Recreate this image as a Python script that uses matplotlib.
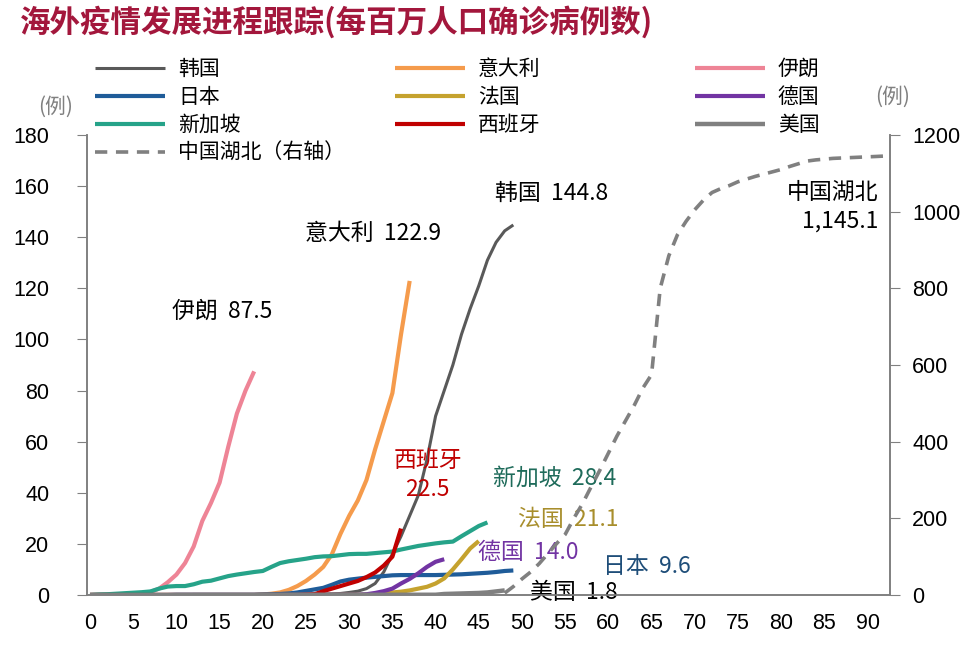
import numpy as np
import matplotlib
matplotlib.use("Agg")
import matplotlib.pyplot as plt

CJK = ['Noto Sans CJK SC', 'DejaVu Sans']
plt.rcParams['font.family'] = CJK

# ---------------- data (days since start, cases per million) ----------------
korea = [0.0, 0.0, 0.0, 0.0, 0.1, 0.1, 0.1, 0.1, 0.1, 0.1,
         0.1, 0.1, 0.2, 0.2, 0.2, 0.2, 0.2, 0.2, 0.2, 0.2,
         0.2, 0.2, 0.2, 0.2, 0.3, 0.3, 0.3, 0.3, 0.4, 0.6,
         1.0, 1.5, 2.5, 4.5, 9.0, 16.0, 23.0, 31.0, 39.0, 53.0,
         70.0, 80.0, 90.0, 102.0, 112.0, 121.0, 131.0, 138.0, 142.5, 144.8]
italy = [0.0] * 20 + [0.2, 0.5, 1.0, 2.0, 3.5, 5.5, 8.0, 11.0, 16.0, 24.0,
                      31.0, 37.0, 45.0, 57.0, 68.0, 79.0, 102.0, 122.9]
iran = [0.0, 0.1, 0.2, 0.3, 0.4, 0.5, 0.7, 1.2, 2.5, 5.0,
        8.0, 12.5, 19.0, 29.0, 36.0, 44.0, 58.0, 71.0, 80.0, 87.5]
japan = [0.0] * 10 + [0.1] * 10 + [0.2, 0.3, 0.4, 0.6, 1.0, 1.6, 2.2, 2.8, 4.0, 5.3,
                                   6.0, 6.4, 6.8, 7.1, 7.4, 7.7, 7.8, 7.8, 7.8, 7.8,
                                   7.8, 7.9, 8.0, 8.1, 8.3, 8.5, 8.7, 9.0, 9.4, 9.6]
france = [0.0] * 25 + [0.1] * 10 + [1.0, 1.3, 1.8, 2.5, 3.2, 4.5, 6.5, 10.0, 14.0, 18.2, 21.1]
germany = [0.0] * 25 + [0.1] * 7 + [0.3, 0.8, 1.5, 2.5, 4.5, 6.3, 8.5, 11.0, 13.0, 14.0]
singapore = [0.0, 0.2, 0.3, 0.5, 0.7, 0.9, 1.1, 1.4, 2.5, 3.3,
             3.5, 3.5, 4.2, 5.2, 5.6, 6.5, 7.4, 8.0, 8.5, 9.0,
             9.4, 11.0, 12.5, 13.2, 13.7, 14.2, 14.8, 15.1, 15.2, 15.6,
             16.0, 16.1, 16.1, 16.4, 16.7, 17.0, 17.8, 18.5, 19.2, 19.7,
             20.2, 20.6, 20.9, 23.0, 25.0, 27.0, 28.4]
spain = [0.0] * 25 + [0.1, 0.3, 1.5, 2.5, 3.5, 4.5, 5.5, 7.0, 8.8, 11.5, 15.0, 26.0]
usa = [0.0] * 20 + [0.1] * 21 + [0.4, 0.5, 0.6, 0.7, 0.8, 1.0, 1.4, 1.8]
hubei_start = 48
hubei = [5, 22, 42, 60, 82, 108, 134, 158, 200, 238,
         282, 325, 370, 415, 455, 495, 540, 575, 800, 885,
         940, 975, 1005, 1030, 1050, 1060, 1068, 1078, 1085, 1092,
         1098, 1104, 1110, 1118, 1125, 1132, 1135, 1137, 1139, 1140,
         1141, 1142, 1143, 1144, 1145.1]

x_ticks = list(range(0, 95, 5))
left_ticks = list(range(0, 200, 20))
right_ticks = list(range(0, 1400, 200))

series = [
    ("韩国", korea, "#595959", 2.2),
    ("意大利", italy, "#F59B4C", 3.0),
    ("伊朗", iran, "#EE8496", 3.0),
    ("日本", japan, "#1F5C99", 3.0),
    ("法国", france, "#C5A22E", 3.0),
    ("德国", germany, "#7234A3", 3.0),
    ("新加坡", singapore, "#26A389", 3.0),
    ("西班牙", spain, "#C00000", 3.0),
    ("美国", usa, "#808080", 3.2),
]

fig = plt.figure(figsize=(9.8, 6.45), dpi=100)
ax = fig.add_axes([87 / 980, 50 / 645, 803 / 980, 460 / 645])
ax2 = ax.twinx()

handles = {}
for name, vals, col, lw in series:
    days = np.arange(len(vals))
    ln, = ax.plot(days, vals, color=col, lw=lw, solid_capstyle='butt', label=name)
    handles[name] = ln

hd = np.arange(hubei_start, hubei_start + len(hubei))
hl, = ax2.plot(hd, hubei, color="#808080", lw=2.6, ls=(0, (3.4, 2.4)), label="中国湖北（右轴）")
handles["中国湖北（右轴）"] = hl

ax.set_xlim(-0.35, 92.6)
ax.set_ylim(0, 180)
ax2.set_ylim(0, 1200)
ax.set_xticks(x_ticks)
ax.set_yticks(left_ticks)
ax2.set_yticks(right_ticks)

for lab in ax.get_xticklabels() + ax.get_yticklabels() + ax2.get_yticklabels():
    lab.set_fontfamily(['Liberation Sans', 'DejaVu Sans'])
    lab.set_fontsize(15.5)

for a in (ax, ax2):
    a.spines['top'].set_visible(False)
    for s in ('left', 'right', 'bottom'):
        a.spines[s].set_color('#808080')
        a.spines[s].set_linewidth(1.2)
ax.tick_params(axis='y', direction='out', length=7, color='#808080', pad=20)
ax2.tick_params(axis='y', direction='out', length=7, color='#808080', pad=9)
ax.tick_params(axis='x', length=0, pad=13)

# unit labels
fig.text(56 / 980, 1 - 107 / 645, "(例)", color="#808080", fontsize=15, ha='center', va='center')
fig.text(893 / 980, 1 - 97 / 645, "(例)", color="#808080", fontsize=15, ha='center', va='center')

# title
fig.text(20 / 980, 1 - 22 / 645, "海外疫情发展进程跟踪(每百万人口确诊病例数)", color="#A3173C",
         fontsize=22, fontweight='bold', ha='left', va='center')

# legends (three columns)
cols = [
    (["韩国", "日本", "新加坡", "中国湖北（右轴）"], 95),
    (["意大利", "法国", "西班牙"], 395),
    (["伊朗", "德国", "美国"], 695),
]
for names, xpx in cols:
    fig.legend([handles[n] for n in names], names, loc='upper left',
               bbox_to_anchor=(xpx / 980, 1 - 58 / 645), frameon=False,
               borderpad=0, borderaxespad=0, handlelength=3.36, handletextpad=0.62,
               labelspacing=0.29, fontsize=15)

# annotations
fs = 16.5
ax.text(9.5, 111, "伊朗  87.5", fontsize=fs, color='black', va='center')
ax.text(24.9, 141.3, "意大利  122.9", fontsize=fs, color='black', va='center')
ax.text(46.9, 157, "韩国  144.8", fontsize=fs, color='black', va='center')
ax.text(91.3, 152, "中国湖北\n1,145.1", fontsize=fs, color='black', va='center', ha='right',
        linespacing=1.3)
ax.text(39.1, 47, "西班牙\n22.5", fontsize=fs, color='#C00000', va='center', ha='center',
        linespacing=1.3)
ax.text(46.6, 45.8, "新加坡  28.4", fontsize=fs, color='#1E6B5A', va='center')
ax.text(49.5, 29.4, "法国  21.1", fontsize=fs, color='#A88E2C', va='center')
ax.text(44.9, 16.8, "德国  14.0", fontsize=fs, color='#7234A3', va='center')
ax.text(59.4, 11.0, "日本  9.6", fontsize=fs, color='#1F4E79', va='center')
ax.text(50.9, 0.8, "美国  1.8", fontsize=fs, color='black', va='center')

fig.savefig("out.png", dpi=100)
